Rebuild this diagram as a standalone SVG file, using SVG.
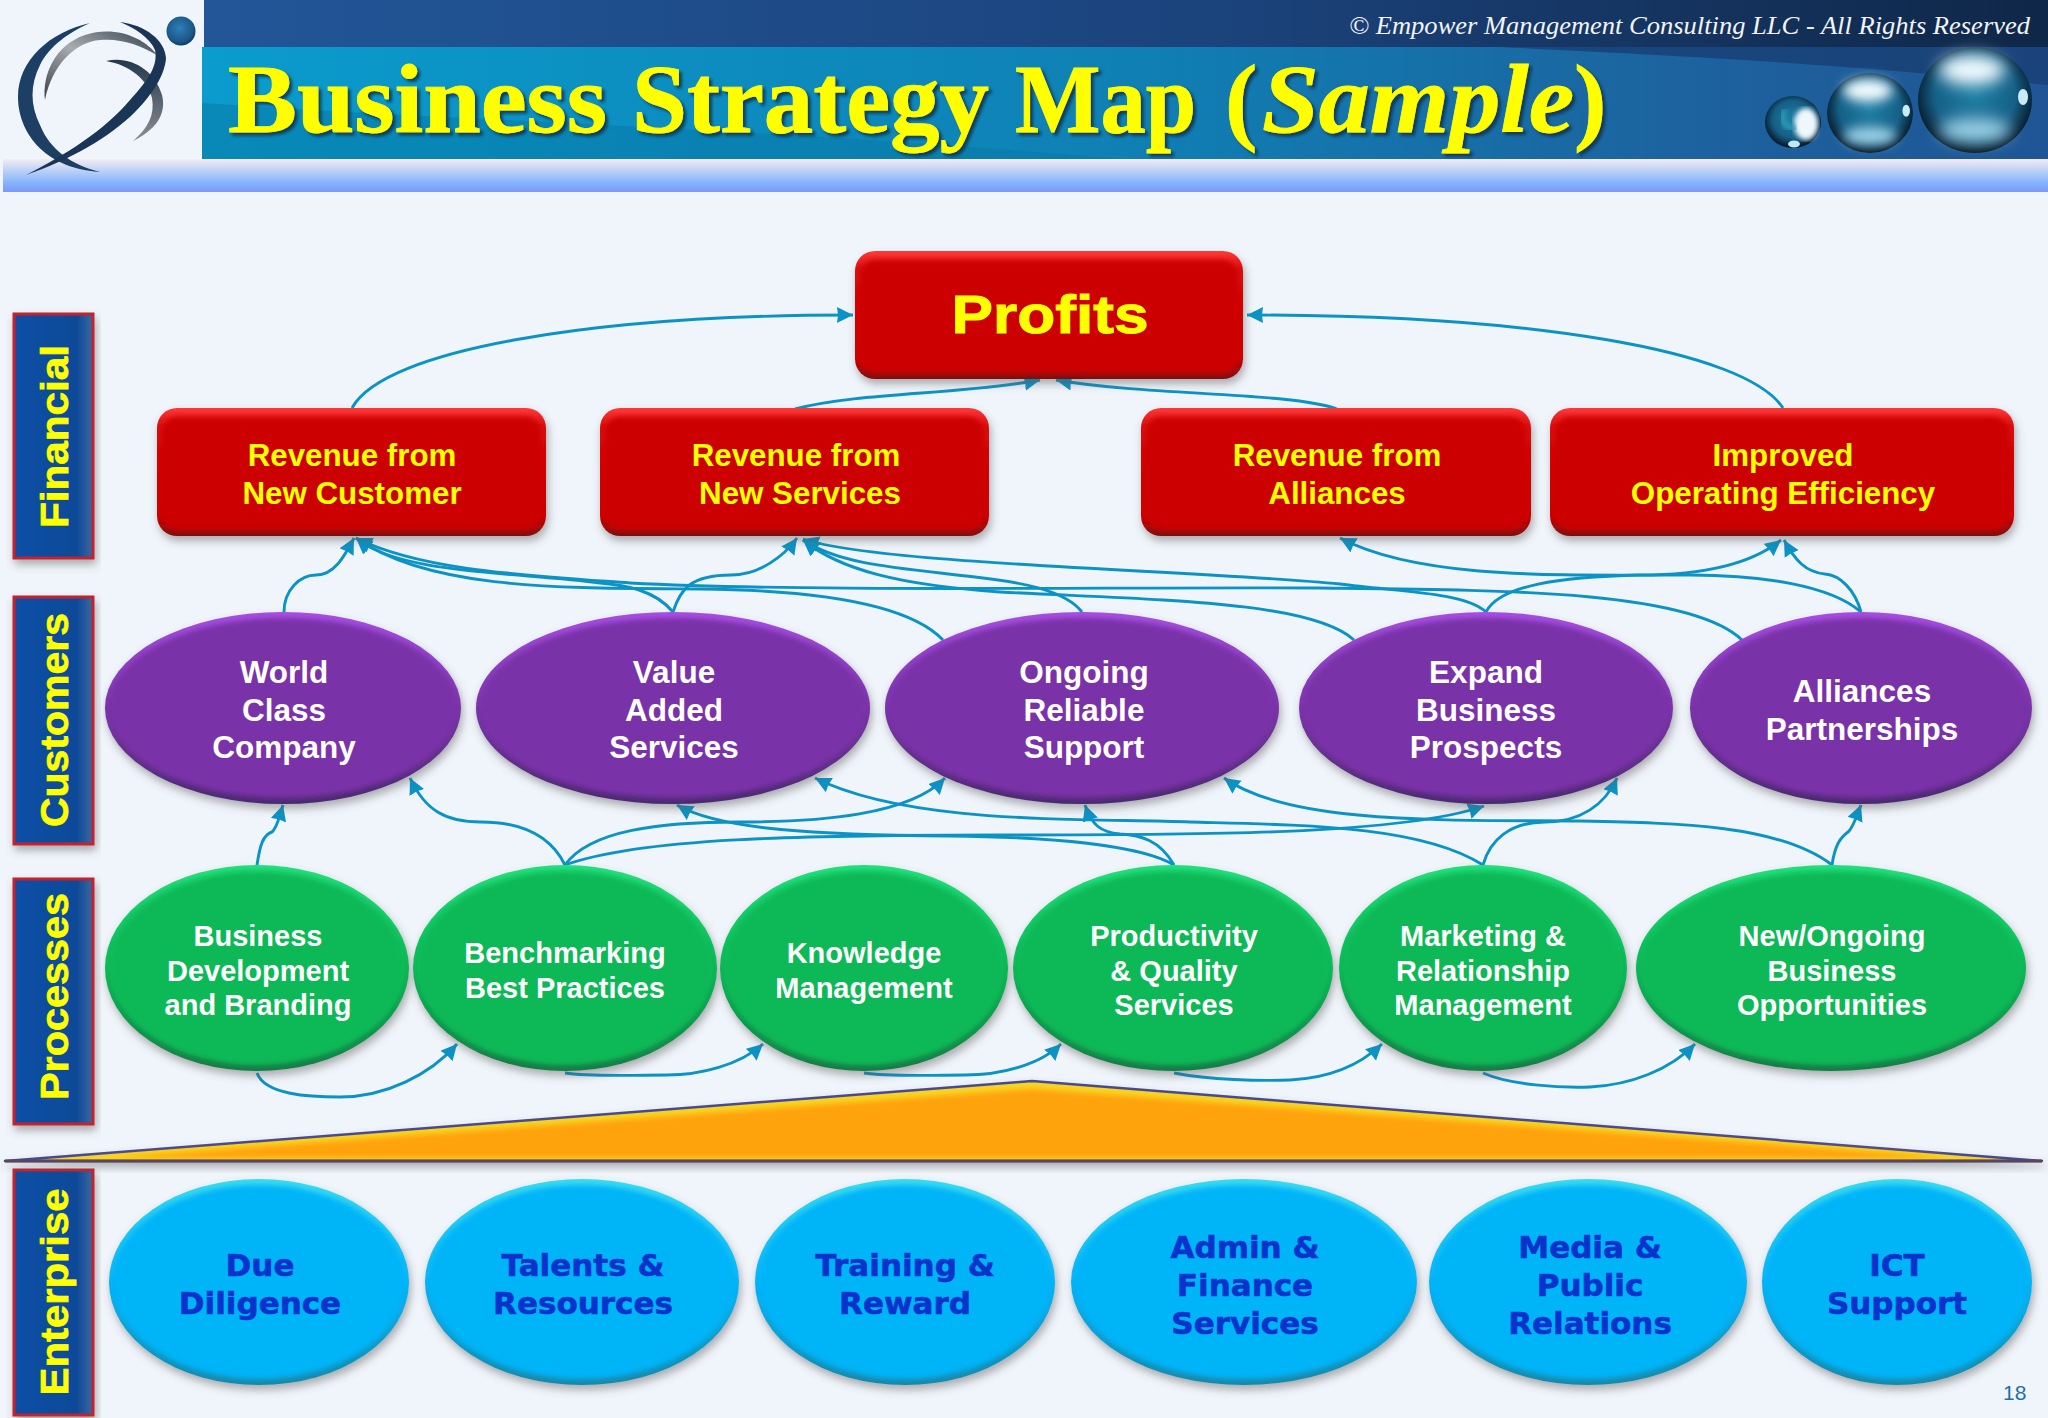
<svg xmlns="http://www.w3.org/2000/svg" width="2048" height="1418" viewBox="0 0 2048 1418">
<style>
.t{font-family:"Liberation Sans",Arial,sans-serif;text-anchor:middle}
.y{fill:#ffff00;font-weight:700;font-size:31.300px}
.w{fill:#fff;font-size:31.500px;font-weight:700}
.g{fill:#fff;font-size:29px;font-weight:700}
.b{font-family:"DejaVu Sans",sans-serif;text-anchor:middle;fill:#0a32cc;font-weight:700;font-size:31px;stroke:#0a32cc;stroke-width:.6px}
.s{fill:#ffff00;font-weight:700;font-size:39px;stroke:#ffff00;stroke-width:.7px}
.c path{fill:none;stroke:#0b93c6;stroke-width:2.900;marker-end:url(#a)}
.tab{fill:url(#tabg);stroke:#c4202f;stroke-width:3}
.blur{filter:url(#bl)}
.sh{filter:url(#ds)}
.ti{font-family:"Liberation Serif",serif;font-weight:700;font-size:97px;fill:#ffff00;stroke:#ffff00;stroke-width:.8px}
</style>
<defs>
<marker id="a" markerUnits="userSpaceOnUse" markerWidth="20" markerHeight="20" refX="16" refY="8" orient="auto"><path d="M0 0L16 8L0 16L1 8Z" style="fill:#0b93c6;stroke:none"/></marker>
<filter id="ds" x="-10%" y="-10%" width="120%" height="125%"><feDropShadow dx="2" dy="5" stdDeviation="4" flood-color="#555" flood-opacity=".45"/></filter>
<filter id="bl" x="-5%" y="-5%" width="110%" height="110%"><feGaussianBlur stdDeviation="2.500"/></filter>
<filter id="bb" x="-80%" y="-80%" width="260%" height="260%"><feGaussianBlur stdDeviation="8"/></filter>
<filter id="tx" x="-2%" y="-10%" width="104%" height="125%"><feDropShadow dx="3" dy="3" stdDeviation="1.500" flood-color="#0a2a40" flood-opacity=".8"/></filter>
<linearGradient id="dark" x1="0" x2="1" y1="0" y2="0"><stop offset="0" stop-color="#225698"/><stop offset=".55" stop-color="#1b437c"/><stop offset="1" stop-color="#0f2748"/></linearGradient>
<linearGradient id="teal" x1="0" x2="1" y1="0" y2="0"><stop offset="0" stop-color="#0a9ccd"/><stop offset=".5" stop-color="#0f80b4"/><stop offset=".8" stop-color="#1c639f"/><stop offset="1" stop-color="#1f5594"/></linearGradient>
<linearGradient id="bar" x1="0" x2="0" y1="0" y2="1"><stop offset="0" stop-color="#f3ecf2"/><stop offset=".7" stop-color="#86b6fb"/><stop offset="1" stop-color="#7a98f8"/></linearGradient>
<linearGradient id="tabg" x1="0" x2="1" y1="0" y2="0"><stop offset="0" stop-color="#0b4fa6"/><stop offset=".8" stop-color="#0f4a98"/><stop offset="1" stop-color="#3a6a9e"/></linearGradient>
<linearGradient id="rr" x1="0" x2="0" y1="0" y2="1"><stop offset="0" stop-color="#ff3a3a"/><stop offset=".15" stop-color="#d80808"/><stop offset=".85" stop-color="#c00"/><stop offset="1" stop-color="#7e1010"/></linearGradient>
<linearGradient id="pr" x1="0" x2="0" y1="0" y2="1"><stop offset="0" stop-color="#a84fe4"/><stop offset=".5" stop-color="#7a33a8"/><stop offset="1" stop-color="#4b2a70"/></linearGradient>
<linearGradient id="gr" x1="0" x2="0" y1="0" y2="1"><stop offset="0" stop-color="#24e07c"/><stop offset=".5" stop-color="#0ab956"/><stop offset="1" stop-color="#157a45"/></linearGradient>
<linearGradient id="bu" x1="0" x2="0" y1="0" y2="1"><stop offset="0" stop-color="#38dcf0"/><stop offset=".5" stop-color="#04b4f8"/><stop offset="1" stop-color="#1488a8"/></linearGradient>
<linearGradient id="gy" x1="0" x2="1" y1="1" y2="0"><stop offset="0" stop-color="#3a4048"/><stop offset=".5" stop-color="#a8acb0"/><stop offset="1" stop-color="#33414f"/></linearGradient>
<linearGradient id="gz" x1="0" x2="0" y1="0" y2="1"><stop offset="0" stop-color="#24384c"/><stop offset="1" stop-color="#8a8e92"/></linearGradient>
<radialGradient id="sp" cx=".5" cy=".45" r=".55"><stop offset="0" stop-color="#1d7fa5"/><stop offset=".65" stop-color="#155f86"/><stop offset=".9" stop-color="#0a2a40"/><stop offset="1" stop-color="#061522"/></radialGradient>
<radialGradient id="lo" cx=".45" cy=".4" r=".6"><stop offset="0" stop-color="#2f7fb8"/><stop offset=".8" stop-color="#1a5688"/><stop offset="1" stop-color="#123a60"/></radialGradient>
<g id="ball">
<ellipse cx="0" cy="0" rx="57" ry="53" fill="url(#sp)"/>
<ellipse cx="-3" cy="-30" rx="33" ry="15" fill="#f0fbff" filter="url(#bb)"/>
<ellipse cx="0" cy="30" rx="36" ry="12" fill="#9ad0e6" filter="url(#bb)"/>
<ellipse cx="48" cy="-3" rx="5" ry="8" fill="#c8ecf6"/>
</g>
</defs>
<rect width="2048" height="1418" fill="#f0f5fb"/>
<g id="header">
<rect x="3" y="159" width="2045" height="33" fill="url(#bar)"/>
<rect x="204" width="1844" height="48" fill="url(#dark)"/>
<rect x="202" y="47" width="1846" height="112" fill="url(#teal)"/>
<path d="M202 103C450 120 800 130 1120 159H202Z" fill="#077aa8" opacity=".55"/>
<path d="M1500 47C1650 55 1800 60 2048 85V47Z" fill="#183f73" opacity=".8"/>
<ellipse cx="1793" cy="122" rx="28" ry="26" fill="url(#sp)"/>
<ellipse cx="1806" cy="124" rx="12" ry="16" fill="#eef8fc" filter="url(#bl)"/>
<path d="M1786 110C1775 120 1790 130 1796 128" fill="none" stroke="#2f9ab8" stroke-width="6" filter="url(#bl)"/>
<ellipse cx="1794" cy="144" rx="6" ry="3.500" fill="#bfe8f4"/>
<use href="#ball" transform="translate(1870 113) scale(.754)"/>
<use href="#ball" transform="translate(1975 100)"/>
<g filter="url(#tx)">
<text class="ti" y="132"><tspan x="228" textLength="379" lengthAdjust="spacingAndGlyphs">Business</tspan> <tspan x="632" textLength="357" lengthAdjust="spacingAndGlyphs">Strategy</tspan> <tspan x="1015" textLength="181" lengthAdjust="spacingAndGlyphs">Map</tspan> <tspan x="1225">(</tspan><tspan x="1262" font-style="italic" textLength="312" lengthAdjust="spacingAndGlyphs">Sample</tspan><tspan x="1574">)</tspan></text>
</g>
<text x="1349" y="34" font-family="'Liberation Serif',serif" font-style="italic" font-size="26" fill="#f2f4f8" textLength="681" lengthAdjust="spacingAndGlyphs">© Empower Management Consulting LLC - All Rights Reserved</text>
</g>
<g id="logo">
<path d="M106 61C130 55 155 70 162 95C167 115 155 130 133 141C148 128 155 115 152 98C148 80 130 65 106 61Z" fill="url(#gz)"/>
<path d="M45 100C42 75 55 45 85 35C115 25 145 38 157 55C140 45 120 38 100 40C75 42 52 65 45 100Z" fill="url(#gy)"/>
<path d="M90 23C50 32 18 60 18 97C18 130 42 168 100 172C72 165 50 150 40 125C30 105 30 85 40 65C50 45 70 32 90 23Z" fill="#1d3f63"/>
<path d="M120 22C145 25 165 40 166 58C165 75 152 95 135 112C110 137 70 160 26 175C65 155 105 130 130 100C150 78 158 65 155 50C150 38 135 28 120 22Z" fill="#1a3556"/>
<ellipse cx="181" cy="31" rx="14.500" ry="14.500" fill="url(#lo)"/>
</g>
<g id="tab-financial"><rect class="tab sh" x="14" y="314" width="79" height="244"/><text class="t s" transform="translate(68 436.500) rotate(-90)" textLength="183" lengthAdjust="spacingAndGlyphs">Financial</text></g>
<g id="tab-customers"><rect class="tab sh" x="14" y="597" width="79" height="247"/><text class="t s" transform="translate(68 720) rotate(-90)" textLength="214" lengthAdjust="spacingAndGlyphs">Customers</text></g>
<g id="tab-processes"><rect class="tab sh" x="14" y="879" width="79" height="245"/><text class="t s" transform="translate(68 996.500) rotate(-90)" textLength="207" lengthAdjust="spacingAndGlyphs">Processes</text></g>
<g id="tab-enterprise"><rect class="tab sh" x="14" y="1170" width="79" height="245"/><text class="t s" transform="translate(68 1292) rotate(-90)" textLength="207" lengthAdjust="spacingAndGlyphs">Enterprise</text></g>
<g id="wedge">
<path class="sh" d="M5 1161L1032 1081L2042 1161Z" fill="#f8d424" stroke="#4a4a8e" stroke-width="2.500" stroke-linejoin="round"/>
<path class="blur" d="M110 1158L1032 1089L1950 1158Z" fill="#ffa308"/>
<path d="M5 1161H2042" stroke="#5a4560" stroke-width="3"/>
</g>
<g class="c" id="connectors">
<path d="M352 408C385 348 600 315 853 315"/>
<path d="M1783 408C1745 350 1530 315 1247 315"/>
<path d="M795 409C860 392 960 395 1040 380"/>
<path d="M1337 409C1290 392 1150 396 1056 380"/>
<path d="M284 612C284 590 300 575 316 575C335 575 345 555 354 538"/>
<path d="M673 612C655 590 625 585 600 583C520 572 400 575 356 538"/>
<path d="M943 640C905 600 800 590 700 589C560 588 430 590 356 538"/>
<path d="M1742 640C1690 590 1500 590 1319 588C1100 587 800 592 630 583C520 575 420 570 356 538"/>
<path d="M673 612C680 590 690 575 731 575C760 575 785 555 797 538"/>
<path d="M1082 612C1065 590 1020 582 975 577C900 568 840 565 803 540"/>
<path d="M1486 612C1465 592 1400 592 1340 584C1200 570 880 565 803 539"/>
<path d="M1354 640C1310 600 1150 600 1000 592C900 585 840 570 803 540"/>
<path d="M1861 612C1830 585 1760 575 1690 575C1560 575 1420 580 1340 538"/>
<path d="M1486 612C1500 585 1560 577 1640 575C1700 575 1750 565 1781 540"/>
<path d="M1861 612C1855 590 1840 575 1825 574C1805 572 1795 560 1784 540"/>
<path d="M257 865C260 845 263 835 272 832C277 828 280 815 283 805"/>
<path d="M565 865C550 835 520 822 481 822C445 822 425 810 410 778"/>
<path d="M565 865C590 830 660 822 740 822C820 822 910 815 945 778"/>
<path d="M565 865C640 838 800 835 1000 835C1200 835 1400 835 1484 806"/>
<path d="M1174 865C1140 845 1050 837 950 836C820 835 720 830 677 805"/>
<path d="M1174 865C1160 840 1140 835 1120 834C1100 832 1092 825 1085 805"/>
<path d="M1483 865C1420 825 1300 825 1190 822C1080 818 910 825 815 778"/>
<path d="M1483 865C1490 840 1510 822 1545 822C1580 822 1605 805 1617 778"/>
<path d="M1832 865C1780 825 1680 823 1580 821C1450 820 1290 825 1224 778"/>
<path d="M1832 865C1835 845 1840 838 1848 832C1853 828 1857 815 1861 805"/>
<path d="M257 1073C265 1095 310 1097 340 1097C385 1097 430 1075 457 1044"/>
<path d="M565 1073C590 1077 640 1075 667 1075C700 1075 740 1065 763 1044"/>
<path d="M864 1073C890 1077 940 1075 965 1075C1000 1075 1040 1065 1061 1044"/>
<path d="M1174 1073C1210 1080 1260 1081 1290 1080C1330 1078 1360 1065 1382 1044"/>
<path d="M1483 1073C1510 1085 1560 1088 1590 1087C1630 1085 1670 1070 1695 1044"/>
</g>
<g id="profits"><rect class="sh" x="855" y="251" width="388" height="128" rx="20" fill="url(#rr)"/><rect class="blur" x="860" y="260" width="378" height="113" rx="16" fill="#cc0000"/><text class="t" x="1050" y="333" font-size="54" font-weight="700" fill="#ffff00" stroke="#ffff00" stroke-width="1" textLength="197" lengthAdjust="spacingAndGlyphs">Profits</text></g>
<g id="rev-customer"><rect class="sh" x="157" y="408" width="389" height="128" rx="20" fill="url(#rr)"/><rect class="blur" x="162" y="417" width="379" height="113" rx="16" fill="#cc0000"/><text class="t y" x="352" y="466">Revenue from</text><text class="t y" x="352" y="504">New Customer</text></g>
<g id="rev-services"><rect class="sh" x="600" y="408" width="389" height="128" rx="20" fill="url(#rr)"/><rect class="blur" x="605" y="417" width="379" height="113" rx="16" fill="#cc0000"/><text class="t y" x="796" y="466">Revenue from</text><text class="t y" x="800" y="504">New Services</text></g>
<g id="rev-alliances"><rect class="sh" x="1141" y="408" width="390" height="128" rx="20" fill="url(#rr)"/><rect class="blur" x="1146" y="417" width="380" height="113" rx="16" fill="#cc0000"/><text class="t y" x="1337" y="466">Revenue from</text><text class="t y" x="1337" y="504">Alliances</text></g>
<g id="improved"><rect class="sh" x="1550" y="408" width="464" height="128" rx="20" fill="url(#rr)"/><rect class="blur" x="1555" y="417" width="454" height="113" rx="16" fill="#cc0000"/><text class="t y" x="1783" y="466">Improved</text><text class="t y" x="1783" y="504">Operating Efficiency</text></g>
<g id="c-world"><ellipse class="sh" cx="283" cy="708" rx="178" ry="96" fill="url(#pr)"/><ellipse class="blur" cx="283" cy="708" rx="174" ry="90" fill="#7a33a8"/><text class="t w" x="284" y="683">World</text><text class="t w" x="284" y="721">Class</text><text class="t w" x="284" y="758">Company</text></g>
<g id="c-value"><ellipse class="sh" cx="673" cy="708" rx="197" ry="96" fill="url(#pr)"/><ellipse class="blur" cx="673" cy="708" rx="193" ry="90" fill="#7a33a8"/><text class="t w" x="674" y="683">Value</text><text class="t w" x="674" y="721">Added</text><text class="t w" x="674" y="758">Services</text></g>
<g id="c-ongoing"><ellipse class="sh" cx="1082" cy="708" rx="197" ry="96" fill="url(#pr)"/><ellipse class="blur" cx="1082" cy="708" rx="193" ry="90" fill="#7a33a8"/><text class="t w" x="1084" y="683">Ongoing</text><text class="t w" x="1084" y="721">Reliable</text><text class="t w" x="1084" y="758">Support</text></g>
<g id="c-expand"><ellipse class="sh" cx="1486" cy="708" rx="187" ry="96" fill="url(#pr)"/><ellipse class="blur" cx="1486" cy="708" rx="183" ry="90" fill="#7a33a8"/><text class="t w" x="1486" y="683">Expand</text><text class="t w" x="1486" y="721">Business</text><text class="t w" x="1486" y="758">Prospects</text></g>
<g id="c-alliances"><ellipse class="sh" cx="1861" cy="708" rx="171" ry="96" fill="url(#pr)"/><ellipse class="blur" cx="1861" cy="708" rx="167" ry="90" fill="#7a33a8"/><text class="t w" x="1862" y="702">Alliances</text><text class="t w" x="1862" y="740">Partnerships</text></g>
<g id="p-business"><ellipse class="sh" cx="257" cy="968" rx="152" ry="103" fill="url(#gr)"/><ellipse class="blur" cx="257" cy="968" rx="148" ry="97" fill="#0ab956"/><text class="t g" x="258" y="946">Business</text><text class="t g" x="258" y="981">Development</text><text class="t g" x="258" y="1015">and Branding</text></g>
<g id="p-bench"><ellipse class="sh" cx="565" cy="968" rx="152" ry="103" fill="url(#gr)"/><ellipse class="blur" cx="565" cy="968" rx="148" ry="97" fill="#0ab956"/><text class="t g" x="565" y="963">Benchmarking</text><text class="t g" x="565" y="998">Best Practices</text></g>
<g id="p-knowledge"><ellipse class="sh" cx="864" cy="968" rx="144" ry="103" fill="url(#gr)"/><ellipse class="blur" cx="864" cy="968" rx="140" ry="97" fill="#0ab956"/><text class="t g" x="864" y="963">Knowledge</text><text class="t g" x="864" y="998">Management</text></g>
<g id="p-productivity"><ellipse class="sh" cx="1173" cy="968" rx="160" ry="103" fill="url(#gr)"/><ellipse class="blur" cx="1173" cy="968" rx="156" ry="97" fill="#0ab956"/><text class="t g" x="1174" y="946">Productivity</text><text class="t g" x="1174" y="981">&amp; Quality</text><text class="t g" x="1174" y="1015">Services</text></g>
<g id="p-marketing"><ellipse class="sh" cx="1483" cy="968" rx="144" ry="103" fill="url(#gr)"/><ellipse class="blur" cx="1483" cy="968" rx="140" ry="97" fill="#0ab956"/><text class="t g" x="1483" y="946">Marketing &amp;</text><text class="t g" x="1483" y="981">Relationship</text><text class="t g" x="1483" y="1015">Management</text></g>
<g id="p-new"><ellipse class="sh" cx="1831" cy="968" rx="195" ry="103" fill="url(#gr)"/><ellipse class="blur" cx="1831" cy="968" rx="191" ry="97" fill="#0ab956"/><text class="t g" x="1832" y="946">New/Ongoing</text><text class="t g" x="1832" y="981">Business</text><text class="t g" x="1832" y="1015">Opportunities</text></g>
<g id="e-due"><ellipse class="sh" cx="259" cy="1282" rx="150" ry="103" fill="url(#bu)"/><ellipse class="blur" cx="259" cy="1282" rx="146" ry="97" fill="#04b4f8"/><text class="b" x="260" y="1276">Due</text><text class="b" x="260" y="1314">Diligence</text></g>
<g id="e-talents"><ellipse class="sh" cx="582" cy="1282" rx="157" ry="103" fill="url(#bu)"/><ellipse class="blur" cx="582" cy="1282" rx="153" ry="97" fill="#04b4f8"/><text class="b" x="583" y="1276">Talents &amp;</text><text class="b" x="583" y="1314">Resources</text></g>
<g id="e-training"><ellipse class="sh" cx="905" cy="1282" rx="150" ry="103" fill="url(#bu)"/><ellipse class="blur" cx="905" cy="1282" rx="146" ry="97" fill="#04b4f8"/><text class="b" x="905" y="1276">Training &amp;</text><text class="b" x="905" y="1314">Reward</text></g>
<g id="e-admin"><ellipse class="sh" cx="1244" cy="1282" rx="173" ry="103" fill="url(#bu)"/><ellipse class="blur" cx="1244" cy="1282" rx="169" ry="97" fill="#04b4f8"/><text class="b" x="1245" y="1258">Admin &amp;</text><text class="b" x="1245" y="1296">Finance</text><text class="b" x="1245" y="1334">Services</text></g>
<g id="e-media"><ellipse class="sh" cx="1588" cy="1282" rx="159" ry="103" fill="url(#bu)"/><ellipse class="blur" cx="1588" cy="1282" rx="155" ry="97" fill="#04b4f8"/><text class="b" x="1590" y="1258">Media &amp;</text><text class="b" x="1590" y="1296">Public</text><text class="b" x="1590" y="1334">Relations</text></g>
<g id="e-ict"><ellipse class="sh" cx="1897" cy="1282" rx="135" ry="103" fill="url(#bu)"/><ellipse class="blur" cx="1897" cy="1282" rx="131" ry="97" fill="#04b4f8"/><text class="b" x="1897" y="1276">ICT</text><text class="b" x="1897" y="1314">Support</text></g>
<text x="2003" y="1400" font-family="'Liberation Sans',sans-serif" font-size="21" fill="#1f6fa8">18</text>
</svg>
